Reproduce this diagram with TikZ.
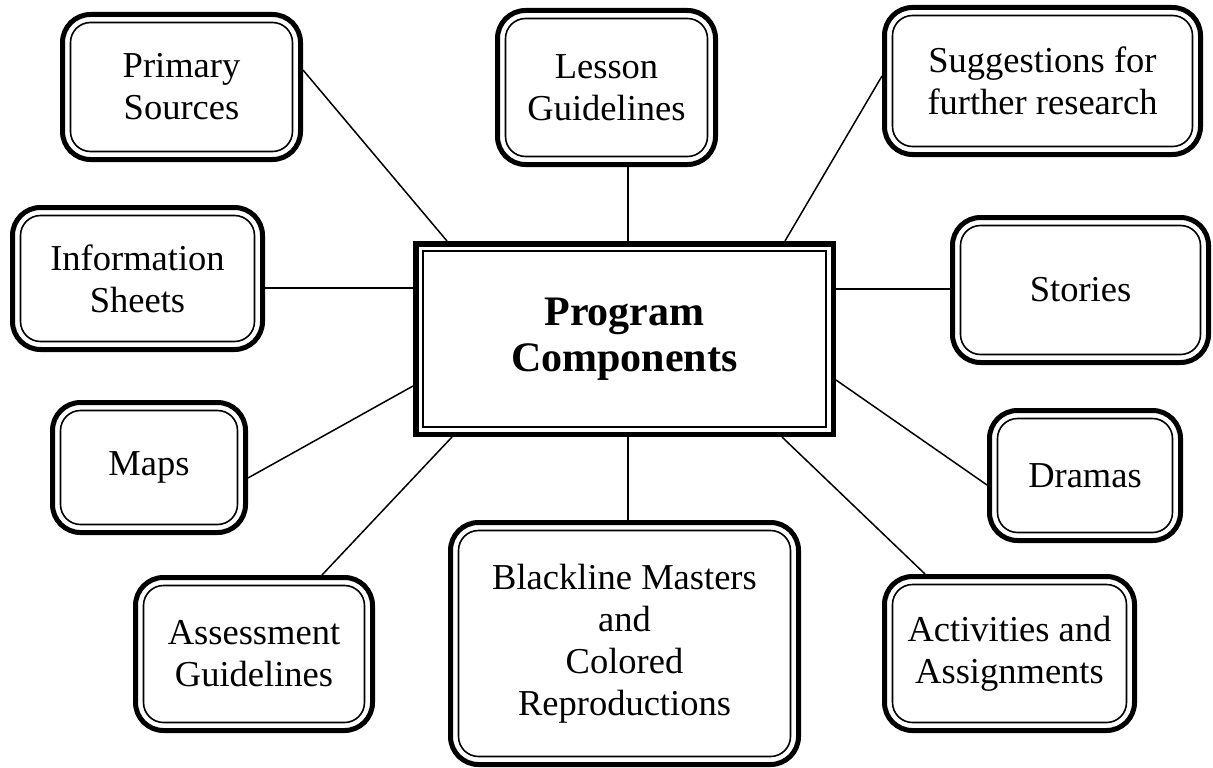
\documentclass[tikz,border=0pt]{standalone}
\usepackage{fontspec}
\setmainfont{Liberation Serif}
\begin{document}
\begin{tikzpicture}[x=1pt,y=-1pt,
  comp/.style={draw, line width=5pt, rounded corners=28pt, fill=white, align=center,
    inner sep=0pt, outer sep=2.5pt, font=\fontsize{36.5}{42}\selectfont},
  hub/.style={draw, line width=5.5pt, fill=white, align=center, inner sep=0pt,
    outer sep=2.75pt, font=\fontsize{42}{46}\selectfont\bfseries},
  innerline/.style={line width=1.6pt, rounded corners=20pt},
  hubinner/.style={line width=2pt},
  link/.style={line width=1.5pt}]
\useasboundingbox (0,0) rectangle (1213,768);

% central hub
\node[hub, minimum width=417.5pt, minimum height=190.5pt] (cb) at (624.5,339)
  {Program\\Components};

% components
\node[comp, minimum width=238pt, minimum height=145pt] (ps) at (181.5,87) {Primary\\Sources};
\node[comp, minimum width=218pt, minimum height=154pt] (lg) at (606.5,87.5) {Lesson\\Guidelines};
\node[comp, minimum width=316pt, minimum height=147pt] (sr) at (1042.5,81) {Suggestions for\\further research};
\node[comp, minimum width=250pt, minimum height=142pt] (is) at (137.5,278.5) {Information\\Sheets};
\node[comp, minimum width=256pt, minimum height=145pt] (st) at (1080.5,290) {Stories};
\node[comp, minimum width=193pt, minimum height=130pt] (mp) at (149,467.5) {Maps};
\node[comp, minimum width=191pt, minimum height=130pt] (dr) at (1085,475.5) {Dramas};
\node[comp, minimum width=237pt, minimum height=153pt] (ag) at (254,654) {Assessment\\Guidelines};
\node[comp, minimum width=348pt, minimum height=242pt] (bm) at (624.5,643.5) {Blackline Masters\\and\\Colored\\Reproductions};
\node[comp, minimum width=250pt, minimum height=154pt] (aa) at (1009.5,653.5) {Activities and\\Assignments};

% inner thin borders
\draw[hubinner] ([shift={(10.3pt,-10.3pt)}]cb.north west) rectangle ([shift={(-10.3pt,10.3pt)}]cb.south east);
\foreach \n in {ps,lg,sr,is,st,mp,dr,ag,bm,aa}
  \draw[innerline] ([shift={(10.5pt,-10.5pt)}]\n.north west) rectangle ([shift={(-10.5pt,10.5pt)}]\n.south east);

% connectors
\draw[link] ([yshift=17pt]ps.east) -- ([xshift=-177.5pt]cb.north);
\draw[link] ([xshift=21.5pt]lg.south) -- ([xshift=3.5pt]cb.north);
\draw[link] ([yshift=5pt]sr.west) -- ([xshift=160.5pt]cb.north);
\draw[link] ([yshift=-9.5pt]is.east) -- ([yshift=51pt]cb.west);
\draw[link] ([yshift=1pt]st.west) -- ([yshift=50pt]cb.east);
\draw[link] ([yshift=-10.5pt]mp.east) -- ([yshift=-47pt]cb.west);
\draw[link] ([yshift=-9.5pt]dr.west) -- ([yshift=-41pt]cb.east);
\draw[link] ([xshift=68pt]ag.north) -- ([xshift=-172.5pt]cb.south);
\draw[link] ([xshift=3.5pt]bm.north) -- ([xshift=3.5pt]cb.south);
\draw[link] ([xshift=-84.5pt]aa.north) -- ([xshift=157.5pt]cb.south);
\end{tikzpicture}
\end{document}
